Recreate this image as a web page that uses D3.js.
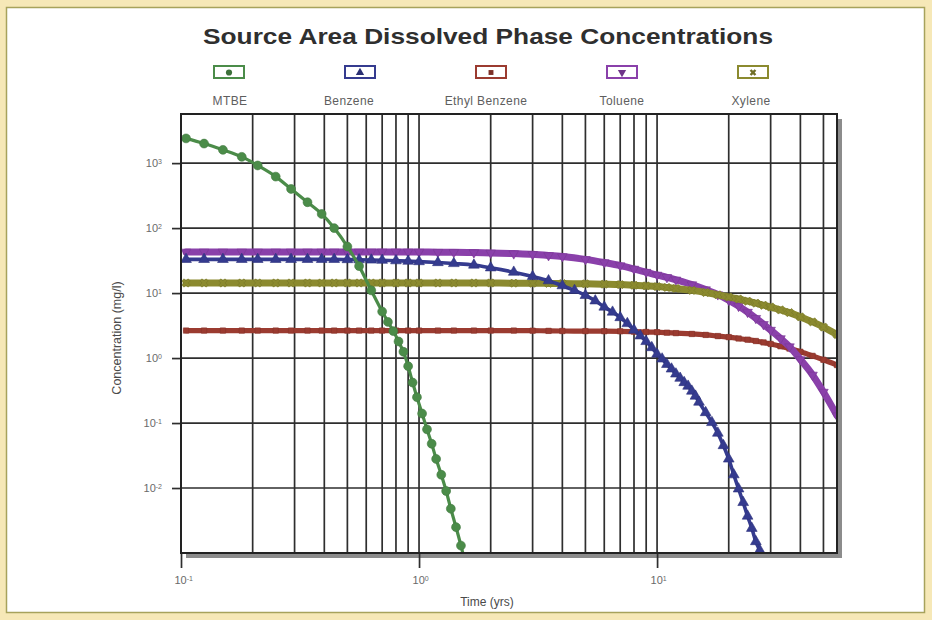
<!DOCTYPE html>
<html><head><meta charset="utf-8">
<script src="https://cdn.jsdelivr.net/npm/d3@7"></script>
<style>html,body{margin:0;padding:0;background:#f6e8b7;} svg{display:block;}</style>
</head><body>
<svg id="chart" width="932" height="620"></svg>
<script>
// ---------------- DATA ----------------
const seriesNames = ["MTBE", "Benzene", "Ethyl Benzene", "Toluene", "Xylene"];

const mtbeTime = [0.105,0.125,0.15,0.18,0.21,0.25,0.29,0.34,0.39,0.44,0.5,0.56,0.63,0.7,0.74,0.78,0.82,0.86,0.9,0.94,0.98,1.03,1.08,1.13,1.18,1.24,1.3,1.36,1.43,1.5,1.55];
const mtbeConc = [2400,2000,1600,1250,920,620,400,250,165,100,52,26,11,5.2,3.6,2.6,1.8,1.25,0.75,0.42,0.25,0.14,0.08,0.048,0.028,0.016,0.009,0.0048,0.0025,0.0013,0.0008];

const benzeneTime = [0.105,0.125,0.15,0.18,0.21,0.25,0.29,0.34,0.39,0.44,0.5,0.56,0.63,0.7,0.8,0.9,1,1.2,1.4,1.7,2,2.5,3,3.5,4,4.5,5,5.5,6,6.5,7,7.5,8,8.5,9,9.5,10,10.5,11,11.5,12,12.5,13,13.5,14,14.5,15,16,17,18,19,20,21,22,23,24,25,26,27,28];
const benzeneConc = [33,33,33,33,33,33,33,33,33,33,32.8,32.6,32.3,32,31.5,31,30.5,29.5,28.5,27,24.5,21,18,15.5,13,11,9.2,7.6,6.1,5.1,4.2,3.4,2.7,2.2,1.8,1.45,1.15,0.97,0.8,0.68,0.57,0.49,0.42,0.37,0.31,0.26,0.21,0.145,0.102,0.07,0.045,0.028,0.016,0.0097,0.006,0.0037,0.0024,0.0015,0.0011,0.0008];

const commonTime = [0.105,0.125,0.15,0.18,0.21,0.25,0.29,0.34,0.39,0.44,0.5,0.56,0.63,0.7,0.8,0.9,1,1.2,1.4,1.7,2,2.5,3,3.5,4,5,6,7,8,9,10,11,12,14,16,18,20,22,24,26,28,30,33,36,40,45,50,57];
const ethylConc = [2.65,2.65,2.65,2.65,2.65,2.65,2.65,2.65,2.65,2.65,2.65,2.65,2.65,2.65,2.65,2.65,2.65,2.65,2.65,2.65,2.65,2.65,2.64,2.62,2.61,2.6,2.59,2.58,2.55,2.52,2.5,2.46,2.42,2.35,2.27,2.18,2.1,2.0,1.92,1.83,1.74,1.65,1.52,1.4,1.25,1.08,0.94,0.78];
const tolueneConc = [43,43,43,43,43,43,43,43,43,43,43,43,43,43,43,43,42.8,42.6,42.4,42,41.5,40.5,39.5,38,36.5,33,29.5,26.5,23.5,21,19,17.5,16,13.5,11.3,9.5,7.8,6.3,5.1,4.1,3.3,2.7,2.0,1.5,0.95,0.55,0.3,0.13];
const xyleneConc = [14.3,14.3,14.3,14.3,14.3,14.3,14.3,14.3,14.3,14.3,14.3,14.3,14.3,14.3,14.3,14.3,14.3,14.3,14.3,14.3,14.3,14.2,14.2,14.1,14.0,13.9,13.7,13.5,13.2,12.9,12.6,12.2,11.8,11.0,10.2,9.4,8.7,8.1,7.5,7.0,6.5,6.1,5.5,5.0,4.3,3.6,3.0,2.3];

const xTickValues = [0.1, 1, 10];
const xTickExp = ["-1", "0", "1"];
const yTickValues = [1e-2, 1e-1, 1, 10, 100, 1000];
const yTickExp = ["-2", "-1", "0", "1", "2", "3"];

const titleText = "Source Area Dissolved Phase Concentrations";
const xTitle = "Time (yrs)";
const yTitle = "Concentration (mg/l)";

// ---------------- STYLE / LAYOUT ----------------
const colors = ["#4b8c49", "#353b8f", "#9b3b30", "#8a40aa", "#8b8a2f"];
const lineWidths = [3.2, 3.6, 5.2, 7, 7];
const shapes = ["circle", "triangleUp", "square", "triangleDown", "x"];

const L = 181, R = 837, T = 114, B = 553;

const svg = d3.select("#chart");
svg.append("rect").attr("width", 932).attr("height", 620).attr("fill", "#f6e8b7");
svg.append("rect").attr("x", 6.5).attr("y", 7.5).attr("width", 918).attr("height", 605)
  .attr("fill", "#ffffff").attr("stroke", "#a7a25c").attr("stroke-width", 1.5);

const x = d3.scaleLog().domain([0.1, 57]).range([L, R]);
const y = d3.scaleLog().domain([1e-3, 5700]).range([B, T]);

// shadow + plot bg
svg.append("rect").attr("x", L + 5).attr("y", T + 5).attr("width", R - L).attr("height", B - T).attr("fill", "#8c8c8c");
svg.append("rect").attr("x", L).attr("y", T).attr("width", R - L).attr("height", B - T).attr("fill", "#ffffff");

// grid
const gridColor = "#2e2e2e";
const vGrid = x.ticks().filter(v => x(v) > L + 1 && x(v) < R - 1);
svg.append("g").selectAll("line").data(vGrid).join("line")
  .attr("x1", d => x(d)).attr("x2", d => x(d)).attr("y1", T).attr("y2", B)
  .attr("stroke", gridColor).attr("stroke-width", 1.7);
svg.append("g").selectAll("line").data(yTickValues).join("line")
  .attr("x1", L).attr("x2", R).attr("y1", d => y(d)).attr("y2", d => y(d))
  .attr("stroke", gridColor).attr("stroke-width", 1.7);

// axes
const yAxis = d3.axisLeft(y).tickValues(yTickValues).tickSize(9).tickPadding(10).tickFormat(() => "10");
const gy = svg.append("g").attr("transform", `translate(${L},0)`).call(yAxis);
gy.select(".domain").remove();
gy.selectAll(".tick line").attr("stroke", gridColor).attr("stroke-width", 1.7);
gy.selectAll(".tick text").attr("fill", "#6a6a6a").attr("font-size", 11).attr("font-family", "Liberation Sans, Arial, sans-serif")
  .each(function(d, i) {
    d3.select(this).append("tspan").attr("dy", "-0.45em").attr("font-size", 7).text(yTickExp[i]);
  });

const xAxis = d3.axisBottom(x).tickValues(xTickValues).tickSize(15).tickPadding(8).tickFormat(() => "10");
const gx = svg.append("g").attr("transform", `translate(0,${B})`).call(xAxis);
gx.select(".domain").remove();
gx.selectAll(".tick line").attr("stroke", gridColor).attr("stroke-width", 1.7);
gx.selectAll(".tick text").attr("fill", "#6a6a6a").attr("font-size", 11).attr("font-family", "Liberation Sans, Arial, sans-serif")
  .attr("text-anchor", "start").attr("x", -7)
  .each(function(d, i) {
    d3.select(this).append("tspan").attr("dy", "-0.45em").attr("font-size", 7).text(xTickExp[i]);
  });

// series
const seriesData = [
  mtbeTime.map((t, i) => ({t, c: mtbeConc[i]})),
  benzeneTime.map((t, i) => ({t, c: benzeneConc[i]})),
  commonTime.map((t, i) => ({t, c: ethylConc[i]})),
  commonTime.map((t, i) => ({t, c: tolueneConc[i]})),
  commonTime.map((t, i) => ({t, c: xyleneConc[i]}))
];

svg.append("clipPath").attr("id", "clip").append("rect").attr("x", L).attr("y", T).attr("width", R - L).attr("height", B - T);
const plot = svg.append("g").attr("clip-path", "url(#clip)");

function symbolPath(shape, size) {
  if (shape === "circle") return d3.symbol(d3.symbolCircle, size)();
  if (shape === "square") return d3.symbol(d3.symbolSquare, size * 0.8)();
  if (shape === "triangleUp" || shape === "triangleDown") return d3.symbol(d3.symbolTriangle, size)();
  return d3.symbol(d3.symbolCross, size * 0.9)();
}
function symbolRotate(shape) {
  if (shape === "triangleDown") return 180;
  if (shape === "x") return 45;
  return 0;
}

const line = d3.line().x(d => x(d.t)).y(d => y(d.c)).curve(d3.curveMonotoneX);
const drawOrder = [2, 3, 4, 1, 0];
const markerSizes = [62, 50, 36, 40, 48];
drawOrder.forEach(si => {
  const g = plot.append("g");
  g.append("path").datum(seriesData[si]).attr("d", line)
    .attr("fill", "none").attr("stroke", colors[si]).attr("stroke-width", lineWidths[si])
    .attr("stroke-linejoin", "round").attr("stroke-linecap", "round");
  const p = symbolPath(shapes[si], markerSizes[si]);
  g.selectAll("path.m").data(seriesData[si]).join("path").attr("class", "m")
    .attr("d", p)
    .attr("transform", d => `translate(${x(d.t)},${y(d.c)}) rotate(${symbolRotate(shapes[si])})`)
    .attr("fill", colors[si]).attr("stroke", d3.color(colors[si]).darker(0.4)).attr("stroke-width", 0.6);
});

// frame
svg.append("rect").attr("x", L).attr("y", T).attr("width", R - L).attr("height", B - T)
  .attr("fill", "none").attr("stroke", "#222").attr("stroke-width", 2);

// title
svg.append("text").attr("x", 488).attr("y", 44).attr("text-anchor", "middle")
  .attr("font-family", "Liberation Sans, Arial, sans-serif").attr("font-weight", "bold")
  .attr("font-size", 22).attr("fill", "#2f2f2f")
  .attr("textLength", 570).attr("lengthAdjust", "spacingAndGlyphs").text(titleText);

// legend
const legendX0 = 229, legendStep = 131, labelDx = [1, -11, -5, 0, -2];
seriesNames.forEach((name, i) => {
  const cx = legendX0 + i * legendStep;
  const g = svg.append("g");
  g.append("rect").attr("x", cx - 15).attr("y", 66).attr("width", 30).attr("height", 12)
    .attr("fill", "#ffffff").attr("stroke", colors[i]).attr("stroke-width", 2);
  g.append("path").attr("d", symbolPath(shapes[i], 30))
    .attr("transform", `translate(${cx},${72.5}) rotate(${symbolRotate(shapes[i])})`)
    .attr("fill", d3.color(colors[i]).darker(0.6));
  g.append("text").attr("x", cx + labelDx[i]).attr("y", 105).attr("text-anchor", "middle")
    .attr("font-family", "Liberation Sans, Arial, sans-serif").attr("font-size", 12)
    .attr("letter-spacing", 0.4).attr("fill", "#5e5e5e").text(name);
});

// axis titles
svg.append("text").attr("x", 487).attr("y", 606).attr("text-anchor", "middle")
  .attr("font-family", "Liberation Sans, Arial, sans-serif").attr("font-size", 12).attr("fill", "#4a4a4a").text(xTitle);
svg.append("text").attr("transform", "translate(121,338) rotate(-90)").attr("text-anchor", "middle")
  .attr("font-family", "Liberation Sans, Arial, sans-serif").attr("font-size", 12.5).attr("fill", "#4a4a4a").text(yTitle);
</script>
</body></html>
